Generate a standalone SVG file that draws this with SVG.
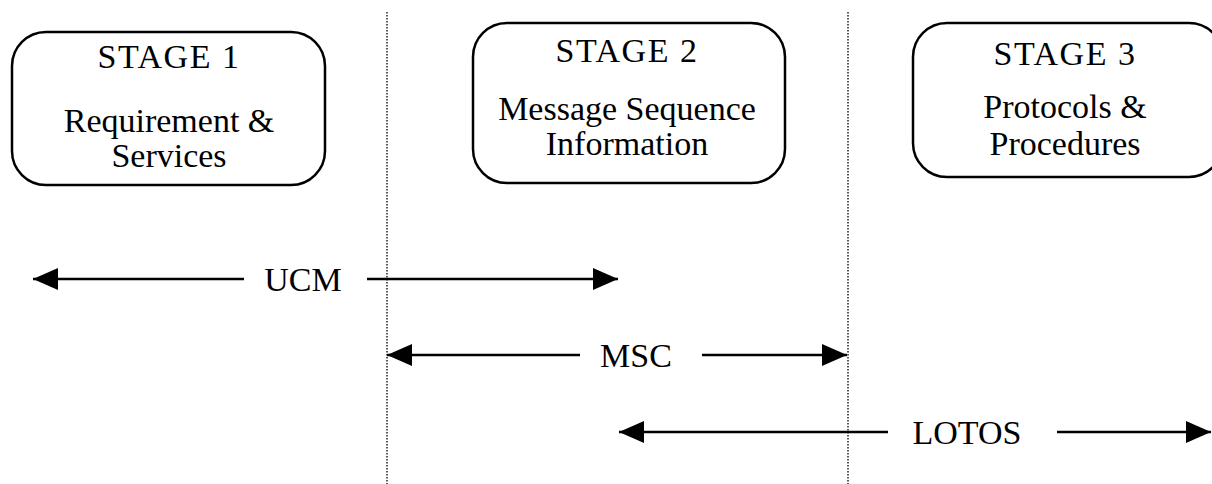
<svg xmlns="http://www.w3.org/2000/svg" width="1212" height="484" viewBox="0 0 1212 484">
<style>
.box{fill:#fff;stroke:#000;stroke-width:2.5}
.t{font-family:"Liberation Serif","Times New Roman",serif;font-size:34px;fill:#000;text-anchor:middle}
.h{letter-spacing:1.5px}
.lbl{font-family:"Liberation Serif","Times New Roman",serif;font-size:34px;fill:#000;text-anchor:middle}
.arr{stroke:#000;stroke-width:2.5;fill:none;marker-end:url(#ah)}
.dot{stroke:#222;stroke-width:1.5;stroke-dasharray:1.5 1.5;fill:none}
</style>
<defs>
<marker id="ah" markerUnits="userSpaceOnUse" markerWidth="25" markerHeight="22" refX="25" refY="11" orient="auto" viewBox="0 0 25 22">
<path d="M0,0 L25,11 L0,22 z" fill="#000"/>
</marker>
</defs>
<rect width="1212" height="484" fill="#fff"/>
<g id="dividers">
<line class="dot" x1="387" y1="12" x2="387" y2="484"/>
<line class="dot" x1="848" y1="12" x2="848" y2="484"/>
</g>
<g id="stage1">
<rect class="box" x="12" y="32" width="313" height="153" rx="34" ry="34"/>
<text class="t h" x="169" y="68">STAGE 1</text>
<text class="t" x="169" y="132">Requirement &amp;</text>
<text class="t" x="169" y="167">Services</text>
</g>
<g id="stage2">
<rect class="box" x="473" y="23" width="312" height="160" rx="34" ry="34"/>
<text class="t h" x="627" y="62">STAGE 2</text>
<text class="t" x="627" y="120">Message Sequence</text>
<text class="t" x="627" y="155">Information</text>
</g>
<g id="stage3">
<rect class="box" x="913" y="23" width="310" height="154" rx="34" ry="34"/>
<text class="t h" x="1065" y="65">STAGE 3</text>
<text class="t" x="1065" y="118">Protocols &amp;</text>
<text class="t" x="1065" y="155">Procedures</text>
</g>
<g id="connectors">
<line class="arr" x1="244" y1="279" x2="33" y2="279"/>
<line class="arr" x1="367" y1="279" x2="618" y2="279"/>
<line class="arr" x1="580" y1="355" x2="387" y2="355"/>
<line class="arr" x1="702" y1="355" x2="847" y2="355"/>
<line class="arr" x1="888" y1="432" x2="619" y2="432"/>
<line class="arr" x1="1057" y1="432" x2="1211" y2="432"/>
</g>
<g id="labels">
<text class="lbl" x="303" y="291">UCM</text>
<text class="lbl" x="636" y="367">MSC</text>
<text class="lbl" x="967" y="444">LOTOS</text>
</g>
</svg>
